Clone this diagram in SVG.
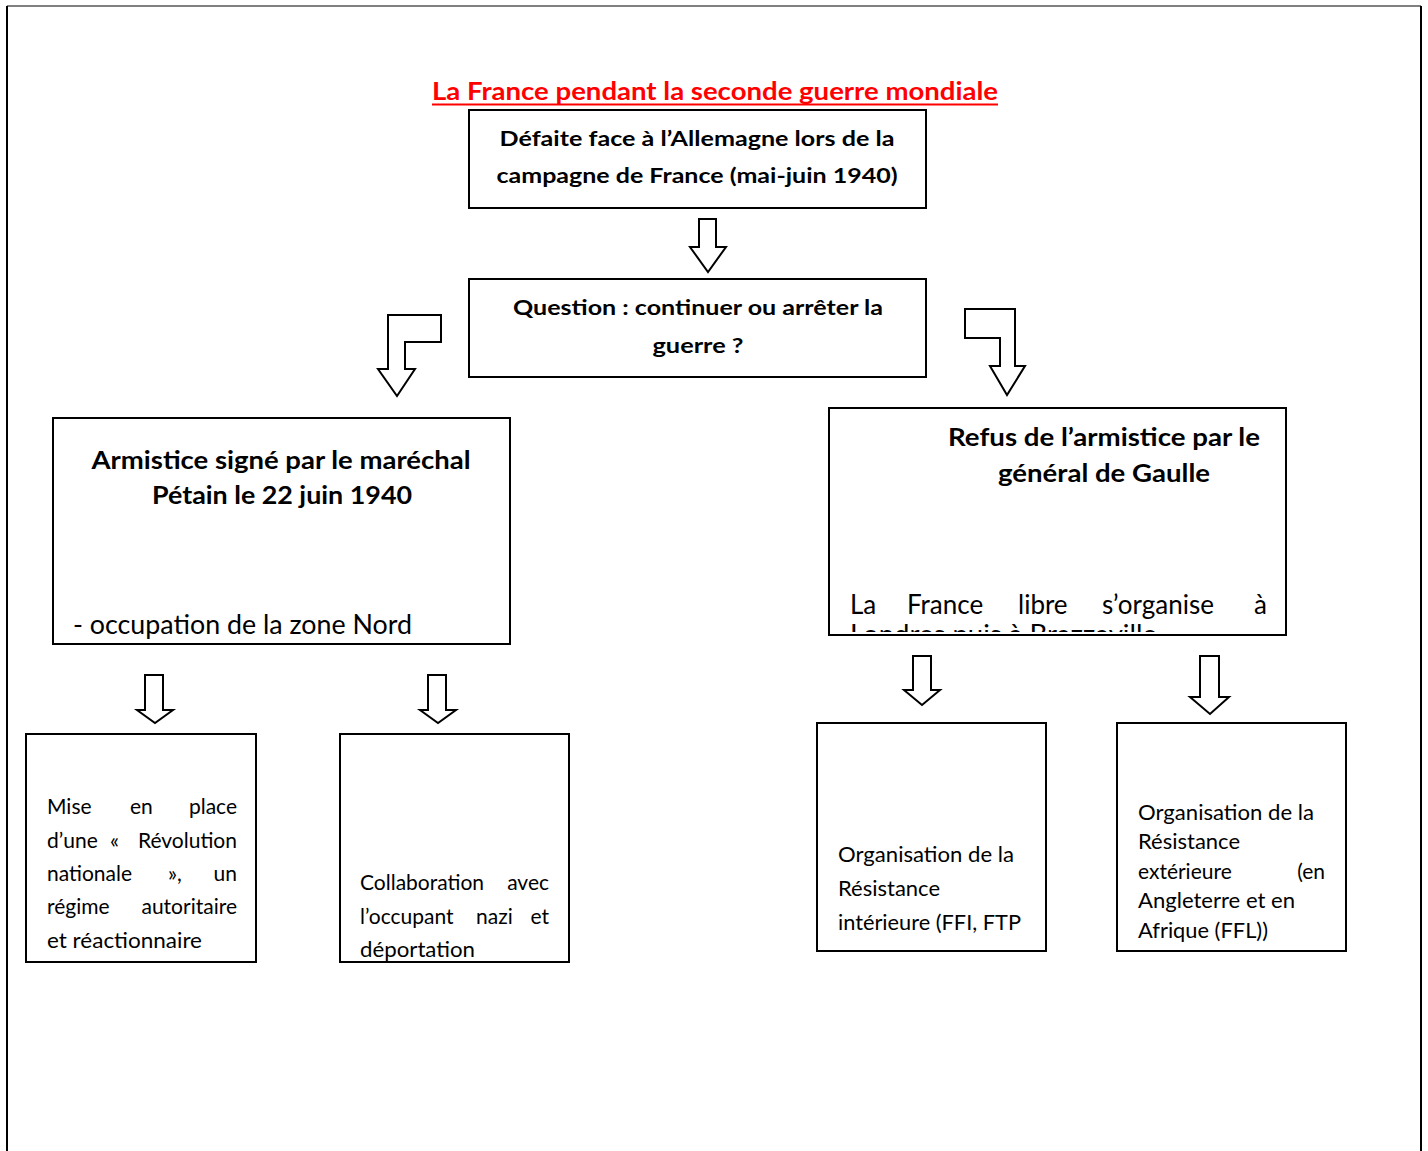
<svg xmlns="http://www.w3.org/2000/svg" width="1428" height="1151" viewBox="0 0 1428 1151">
<style>
text{font-family:Lato,"Open Sans","Liberation Sans",sans-serif;fill:#000}
.box{fill:#fff;stroke:#000;stroke-width:2}
.arr{fill:#fff;stroke:#000;stroke-width:2;stroke-linejoin:miter}
.b22{font-size:21.5px;font-weight:bold}
.b24{font-size:24px;font-weight:bold}
.r24{font-size:26px}
.s{font-size:21px}
.title{font-size:25px;font-weight:bold;fill:#ff0000}
</style>
<defs>
<clipPath id="clipR"><rect x="830" y="409" width="455" height="223"/></clipPath>
</defs>
<rect width="1428" height="1151" fill="#fff"/>
<g id="page">
<line x1="7" y1="6" x2="1421" y2="6" stroke="#808080" stroke-width="2"/>
<line x1="7" y1="6" x2="7" y2="1151" stroke="#000" stroke-width="2"/>
<line x1="1421" y1="6" x2="1421" y2="1151" stroke="#000" stroke-width="2"/>
</g>
<g id="title">
<text class="title" x="715" y="100" text-anchor="middle" textLength="566" lengthAdjust="spacingAndGlyphs">La France pendant la seconde guerre mondiale</text>
<line x1="432" y1="104.5" x2="998" y2="104.5" stroke="#ff0000" stroke-width="2"/>
</g>
<g id="n-defaite">
<rect class="box" x="469" y="110" width="457" height="98"/>
<text class="b22" x="697" y="146" text-anchor="middle" textLength="395" lengthAdjust="spacingAndGlyphs">Défaite face à l’Allemagne lors de la</text>
<text class="b22" x="697" y="183" text-anchor="middle" textLength="401" lengthAdjust="spacingAndGlyphs">campagne de France (mai-juin 1940)</text>
</g>
<g id="n-question">
<rect class="box" x="469" y="279" width="457" height="98"/>
<text class="b22" x="698" y="315" text-anchor="middle" textLength="370" lengthAdjust="spacingAndGlyphs">Question : continuer ou arrêter la</text>
<text class="b22" x="698" y="353" text-anchor="middle" textLength="91" lengthAdjust="spacingAndGlyphs">guerre ?</text>
</g>
<g id="n-armistice">
<rect class="box" x="53" y="418" width="457" height="226"/>
<text class="b24" x="281" y="469" text-anchor="middle" textLength="379" lengthAdjust="spacingAndGlyphs">Armistice signé par le maréchal</text>
<text class="b24" x="282" y="504" text-anchor="middle" textLength="260" lengthAdjust="spacingAndGlyphs">Pétain le 22 juin 1940</text>
<text class="r24" x="73" y="634" textLength="339" lengthAdjust="spacingAndGlyphs">- occupation de la zone Nord</text>
</g>
<g id="n-refus">
<rect class="box" x="829" y="408" width="457" height="227"/>
<text class="b24" x="1104" y="446" text-anchor="middle" textLength="312" lengthAdjust="spacingAndGlyphs">Refus de l’armistice par le</text>
<text class="b24" x="1104" y="482" text-anchor="middle" textLength="212" lengthAdjust="spacingAndGlyphs">général de Gaulle</text>
<g clip-path="url(#clipR)">
<text class="r24" x="850" y="614">La</text>
<text class="r24" x="907" y="614">France</text>
<text class="r24" x="1018" y="614">libre</text>
<text class="r24" x="1102" y="614">s’organise</text>
<text class="r24" x="1267" y="614" text-anchor="end">à</text>
<text class="r24" x="850" y="644" textLength="307" lengthAdjust="spacingAndGlyphs">Londres puis à Brazzaville</text>
</g>
</g>
<g id="n-revolution">
<rect class="box" x="26" y="734" width="230" height="228"/>
<text class="s" x="47" y="814">Mise</text>
<text class="s" x="130" y="814">en</text>
<text class="s" x="237" y="814" text-anchor="end">place</text>
<text class="s" x="47" y="848">d’une</text>
<text class="s" x="110" y="848">«</text>
<text class="s" x="237" y="848" text-anchor="end">Révolution</text>
<text class="s" x="47" y="881">nationale</text>
<text class="s" x="168" y="881">»,</text>
<text class="s" x="237" y="881" text-anchor="end">un</text>
<text class="s" x="47" y="914">régime</text>
<text class="s" x="237" y="914" text-anchor="end">autoritaire</text>
<text class="s" x="47" y="948" textLength="155" lengthAdjust="spacingAndGlyphs">et réactionnaire</text>
</g>
<g id="n-collaboration">
<rect class="box" x="340" y="734" width="229" height="228"/>
<text class="s" x="360" y="890">Collaboration</text>
<text class="s" x="549" y="890" text-anchor="end">avec</text>
<text class="s" x="360" y="924">l’occupant</text>
<text class="s" x="476" y="924">nazi</text>
<text class="s" x="549" y="924" text-anchor="end">et</text>
<text class="s" x="360" y="957" textLength="115" lengthAdjust="spacingAndGlyphs">déportation</text>
</g>
<g id="n-interieure">
<rect class="box" x="817" y="723" width="229" height="228"/>
<text class="s" x="838" y="862" textLength="176" lengthAdjust="spacingAndGlyphs">Organisation de la</text>
<text class="s" x="838" y="896" textLength="102" lengthAdjust="spacingAndGlyphs">Résistance</text>
<text class="s" x="838" y="930" textLength="183" lengthAdjust="spacingAndGlyphs">intérieure (FFI, FTP</text>
</g>
<g id="n-exterieure">
<rect class="box" x="1117" y="723" width="229" height="228"/>
<text class="s" x="1138" y="820" textLength="176" lengthAdjust="spacingAndGlyphs">Organisation de la</text>
<text class="s" x="1138" y="849" textLength="102" lengthAdjust="spacingAndGlyphs">Résistance</text>
<text class="s" x="1138" y="879">extérieure</text>
<text class="s" x="1325" y="879" text-anchor="end">(en</text>
<text class="s" x="1138" y="908" textLength="157" lengthAdjust="spacingAndGlyphs">Angleterre et en</text>
<text class="s" x="1138" y="938" textLength="130" lengthAdjust="spacingAndGlyphs">Afrique (FFL))</text>
</g>
<g id="connectors">
<path class="arr" d="M699,219 L716,219 L716,247 L726,247 L708,272 L690,247 L699,247 Z"/>
<path class="arr" d="M388,315 L441,315 L441,342 L405,342 L405,369 L415,369 L397,396 L378,369 L388,369 Z"/>
<path class="arr" d="M965,309 L1015,309 L1015,366 L1025,366 L1007,395 L990,366 L1000,366 L1000,338 L965,338 Z"/>
<path class="arr" d="M145,675 L163,675 L163,710 L173,710 L155,723 L137,710 L145,710 Z"/>
<path class="arr" d="M428,675 L446,675 L446,710 L456,710 L438,723 L420,710 L428,710 Z"/>
<path class="arr" d="M913,656 L931,656 L931,690 L940,690 L922,705 L904,690 L913,690 Z"/>
<path class="arr" d="M1200,656 L1219,656 L1219,697 L1229,697 L1210,714 L1190,697 L1200,697 Z"/>
</g>
</svg>
